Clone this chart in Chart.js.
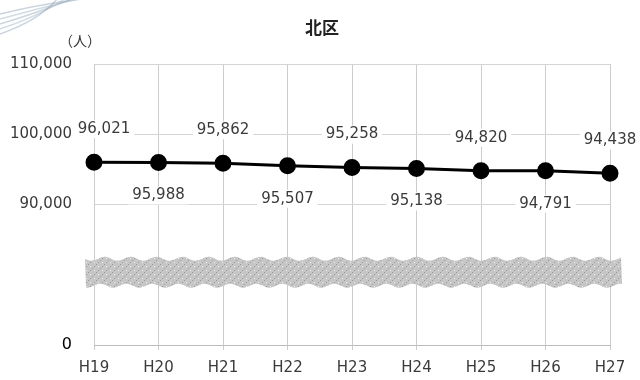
<!DOCTYPE html>
<html>
<head>
<meta charset="utf-8">
<script src="https://cdn.jsdelivr.net/npm/chart.js@4/dist/chart.umd.min.js"></script>
<style>
  html, body { margin: 0; padding: 0; background: #fff; }
  #wrap { width: 640px; height: 380px; }
</style>
</head>
<body>
<div id="wrap"><canvas id="chart" width="640" height="380"></canvas></div>
<script>
// 北区 人口の推移
const years = ['H19', 'H20', 'H21', 'H22', 'H23', 'H24', 'H25', 'H26', 'H27'];
const population = [96021, 95988, 95862, 95507, 95258, 95138, 94820, 94791, 94438];
const yTicks = [70000, 80000, 90000, 100000, 110000];
const labelAbove = [true, false, true, false, true, false, true, false, true];

const fmt = v => v.toLocaleString('en-US');
const numFont = '"DejaVu Sans", sans-serif';

// 背景の飾り線（左上）
const cornerDeco = {
    id: 'cornerDeco',
    beforeDraw(chart) {
        const ctx = chart.ctx;
        ctx.save();
        ctx.lineWidth = 1.5;
        for (let i = 0; i < 5; i++) {
            ctx.strokeStyle = i % 2 ? 'rgba(170,190,205,0.55)' : 'rgba(140,160,180,0.45)';
            ctx.beginPath();
            ctx.moveTo(0, 14 + i * 5);
            ctx.quadraticCurveTo(40, 4 + i * 4, 90 - i * 8, -2);
            ctx.stroke();
        }
        ctx.restore();
    }
};

// タイトルと単位
const titles = {
    id: 'titles',
    afterDraw(chart) {
        const ctx = chart.ctx;
        ctx.save();
        ctx.fillStyle = '#222';
        ctx.textAlign = 'center';
        ctx.textBaseline = 'middle';
        ctx.font = 'bold 17px "Noto Sans CJK JP", sans-serif';
        ctx.fillText('北区', 322, 28);
        ctx.font = '14px "Noto Sans CJK JP", sans-serif';
        ctx.fillStyle = '#333';
        ctx.fillText('（人）', 80, 41);
        ctx.restore();
    }
};

// 軸の省略（波線の帯）
const axisBreak = {
    id: 'axisBreak',
    afterDatasetsDraw(chart) {
        const ctx = chart.ctx;
        const y = chart.scales.y.getPixelForValue(80000);
        const area = chart.chartArea;
        const x0 = area.left - 9, x1 = area.right + 12;
        const top = y - 16, bottom = y + 11;

        const pc = document.createElement('canvas');
        pc.width = 8; pc.height = 8;
        const p = pc.getContext('2d');
        p.fillStyle = '#c6c6c6';
        p.fillRect(0, 0, 8, 8);
        p.fillStyle = '#9a9a9a';
        p.fillRect(0, 0, 1, 1); p.fillRect(4, 4, 1, 1); p.fillRect(2, 6, 1, 1); p.fillRect(6, 2, 1, 1);
        p.fillStyle = '#ececec';
        p.fillRect(2, 2, 1, 1); p.fillRect(6, 6, 1, 1);

        ctx.save();
        ctx.beginPath();
        ctx.moveTo(x0, top);
        for (let x = x0; x <= x1; x += 2) {
            ctx.lineTo(x, top + 2 * Math.sin((x - x0) / 26 * Math.PI * 2));
        }
        for (let x = x1; x >= x0; x -= 2) {
            ctx.lineTo(x, bottom + 2 * Math.sin((x - x0) / 26 * Math.PI * 2 + 1));
        }
        ctx.closePath();
        ctx.fillStyle = ctx.createPattern(pc, 'repeat');
        ctx.fill();
        ctx.restore();
    }
};

// データラベル（上下交互、白地）
const valueLabels = {
    id: 'valueLabels',
    afterDatasetsDraw(chart) {
        const ctx = chart.ctx;
        const meta = chart.getDatasetMeta(0);
        ctx.save();
        ctx.font = '15px ' + numFont;
        ctx.textAlign = 'center';
        ctx.textBaseline = 'middle';
        meta.data.forEach((pt, i) => {
            const txt = fmt(population[i]);
            const dx = i === 0 ? 10 : 0;
            const ly = labelAbove[i] ? pt.y - 33 : pt.y + 33;
            const w = ctx.measureText(txt).width + 8;
            ctx.fillStyle = '#fff';
            ctx.fillRect(pt.x + dx - w / 2, ly - 9, w, 18);
            ctx.fillStyle = '#3a3a3a';
            ctx.fillText(txt, pt.x + dx, ly);
        });
        ctx.restore();
    }
};

new Chart(document.getElementById('chart'), {
    type: 'line',
    data: {
        labels: years,
        datasets: [{
            data: population,
            borderColor: '#000',
            backgroundColor: '#000',
            borderWidth: 3,
            pointRadius: 7,
            pointHoverRadius: 7,
            tension: 0
        }]
    },
    options: {
        responsive: false,
        animation: false,
        layout: { padding: { top: 64, right: 30, left: 0, bottom: 0 } },
        plugins: {
            legend: { display: false },
            tooltip: { enabled: false }
        },
        scales: {
            x: {
                offset: false,
                grid: { color: '#cccccc', tickLength: 5, drawTicks: true },
                border: { color: '#bdbdbd' },
                ticks: { color: '#3a3a3a', font: { size: 15, family: numFont }, padding: 9, maxRotation: 0 },
                afterFit: scale => { scale.height = 35; }
            },
            y: {
                min: yTicks[0],
                max: yTicks[yTicks.length - 1],
                afterBuildTicks: scale => { scale.ticks = yTicks.map(v => ({ value: v })); },
                grid: { color: '#d4d4d4', drawTicks: false },
                border: { display: false },
                ticks: {
                    color: ctx => ctx.tick.value === 70000 ? '#000' : '#3a3a3a',
                    font: ctx => ({ size: ctx.tick && ctx.tick.value === 70000 ? 16 : 15, family: numFont }),
                    padding: 22,
                    callback: v => v === 70000 ? '0' : (v === 80000 ? '' : fmt(v))
                },
                afterFit: scale => { scale.width = 94; }
            }
        }
    },
    plugins: [cornerDeco, axisBreak, valueLabels, titles]
});
</script>
</body>
</html>
